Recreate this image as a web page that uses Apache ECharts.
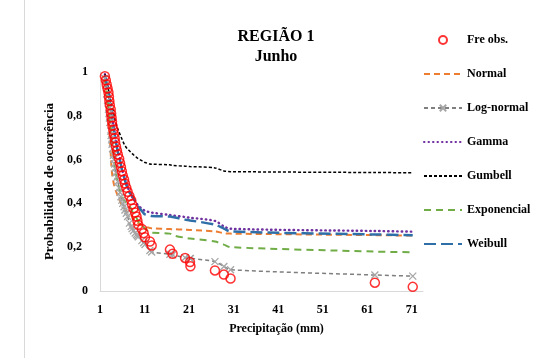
<!DOCTYPE html>
<html>
<head>
<meta charset="utf-8">
<script src="https://cdn.jsdelivr.net/npm/echarts@6/dist/echarts.min.js"></script>
<style>
  html, body { margin: 0; padding: 0; background: #fff; }
  #chart { width: 543px; height: 358px; }
</style>
</head>
<body>
<div id="chart"></div>
<script>
// precipitation (mm) of each observation, ascending
const obsX = [2.1, 2.3, 2.5, 2.7, 2.9, 3.0, 3.1, 3.2, 3.4, 3.5, 3.6, 3.7, 3.8, 4.0, 4.1, 4.3, 4.4, 4.6, 4.8, 5.0,
  5.3, 5.5, 5.7, 5.9, 6.1, 6.4, 6.6, 6.9, 7.2, 7.6, 8.0, 8.2, 8.5, 8.9, 9.2, 9.4, 9.6, 10.4, 10.8, 11.1,
  12.2, 12.6, 16.7, 17.3, 20.1, 21.2, 21.3, 26.8, 28.8, 30.3, 62.7, 71.2];
const obsP = [0.981, 0.962, 0.943, 0.925, 0.906, 0.887, 0.868, 0.849, 0.830, 0.811, 0.792, 0.774, 0.755, 0.736, 0.717, 0.698, 0.679, 0.660, 0.642, 0.623,
  0.604, 0.585, 0.566, 0.547, 0.528, 0.509, 0.491, 0.472, 0.453, 0.434, 0.415, 0.396, 0.377, 0.358, 0.340, 0.321, 0.302, 0.283, 0.264, 0.245,
  0.226, 0.208, 0.189, 0.170, 0.151, 0.132, 0.113, 0.094, 0.075, 0.057, 0.038, 0.019];
const normalP = [0.96, 0.93, 0.90, 0.86, 0.81, 0.78, 0.74, 0.70, 0.63, 0.59, 0.56, 0.54, 0.52, 0.50, 0.49, 0.475, 0.465, 0.455, 0.445, 0.435,
  0.42, 0.41, 0.40, 0.395, 0.39, 0.38, 0.375, 0.365, 0.36, 0.35, 0.345, 0.34, 0.33, 0.325, 0.318, 0.314, 0.31, 0.30, 0.295, 0.292,
  0.288, 0.286, 0.283, 0.282, 0.28, 0.279, 0.279, 0.272, 0.264, 0.262, 0.255, 0.253];
const lognormalP = [0.97, 0.94, 0.90, 0.87, 0.83, 0.81, 0.79, 0.77, 0.73, 0.71, 0.69, 0.67, 0.65, 0.62, 0.60, 0.58, 0.56, 0.54, 0.52, 0.50,
  0.47, 0.45, 0.43, 0.415, 0.40, 0.385, 0.37, 0.355, 0.34, 0.31, 0.295, 0.285, 0.275, 0.265, 0.258, 0.252, 0.247, 0.23, 0.22, 0.212,
  0.185, 0.178, 0.168, 0.165, 0.152, 0.149, 0.148, 0.134, 0.112, 0.097, 0.073, 0.068];
const gammaP = [0.99, 0.975, 0.955, 0.935, 0.915, 0.90, 0.885, 0.87, 0.85, 0.835, 0.815, 0.80, 0.78, 0.76, 0.74, 0.72, 0.70, 0.68, 0.66, 0.64,
  0.62, 0.60, 0.58, 0.56, 0.545, 0.525, 0.51, 0.49, 0.475, 0.455, 0.44, 0.43, 0.42, 0.41, 0.40, 0.395, 0.39, 0.375, 0.37, 0.365,
  0.36, 0.358, 0.347, 0.345, 0.338, 0.334, 0.333, 0.32, 0.295, 0.284, 0.274, 0.271];
const gumbelP = [0.99, 0.975, 0.96, 0.94, 0.92, 0.91, 0.90, 0.89, 0.87, 0.86, 0.85, 0.84, 0.835, 0.82, 0.81, 0.79, 0.78, 0.765, 0.75, 0.74,
  0.725, 0.715, 0.705, 0.695, 0.685, 0.672, 0.665, 0.655, 0.648, 0.64, 0.632, 0.628, 0.622, 0.615, 0.61, 0.607, 0.604, 0.595, 0.59, 0.587,
  0.58, 0.579, 0.576, 0.573, 0.57, 0.568, 0.567, 0.562, 0.548, 0.545, 0.541, 0.54];
const expP = [0.97, 0.94, 0.91, 0.88, 0.85, 0.83, 0.81, 0.79, 0.75, 0.73, 0.71, 0.69, 0.67, 0.63, 0.61, 0.57, 0.55, 0.53, 0.51, 0.49,
  0.47, 0.455, 0.445, 0.435, 0.425, 0.415, 0.41, 0.405, 0.40, 0.39, 0.375, 0.365, 0.355, 0.343, 0.333, 0.325, 0.318, 0.302, 0.292, 0.285,
  0.268, 0.266, 0.262, 0.255, 0.243, 0.24, 0.24, 0.226, 0.212, 0.20, 0.18, 0.177];
const weibullP = [0.985, 0.97, 0.95, 0.93, 0.91, 0.895, 0.88, 0.865, 0.845, 0.83, 0.81, 0.795, 0.775, 0.755, 0.735, 0.715, 0.695, 0.675, 0.655, 0.635,
  0.615, 0.595, 0.575, 0.555, 0.54, 0.52, 0.505, 0.485, 0.47, 0.45, 0.44, 0.435, 0.425, 0.41, 0.40, 0.39, 0.385, 0.365, 0.355, 0.35,
  0.345, 0.343, 0.34, 0.338, 0.326, 0.322, 0.321, 0.303, 0.285, 0.272, 0.258, 0.255];

const yTickLabels = { 0: '0', 0.2: '0,2', 0.4: '0,4', 0.6: '0,6', 0.8: '0,8', 1: '1' };
const legendNames = ['Fre obs.', 'Normal', 'Log-normal', 'Gamma', 'Gumbell', 'Exponencial', 'Weibull'];
// series whose legend icon keeps its marker
const legendWithMarker = ['Fre obs.', 'Log-normal'];

const FONT = '"Liberation Serif", "Times New Roman", serif';
const pairs = ys => obsX.map((x, i) => [x, ys[i]]);

function lineSeries(name, ys, color, width, dash, extra) {
  return Object.assign({
    name: name,
    type: 'line',
    data: pairs(ys),
    smooth: 0.3,
    showSymbol: false,
    symbol: 'none',
    lineStyle: { color: color, width: width, type: dash },
    itemStyle: { color: color },
    z: 2,
  }, extra || {});
}

const chart = echarts.init(document.getElementById('chart'));
chart.setOption({
  animation: false,
  backgroundColor: '#fff',
  textStyle: { fontFamily: FONT, fontWeight: 'bold', color: '#000' },
  title: {
    text: 'REGIÃO 1\nJunho',
    left: 271,
    top: 22,
    textAlign: 'center',
    textStyle: { fontFamily: FONT, fontWeight: 'bold', fontSize: 16, lineHeight: 20, color: '#000' },
  },
  legend: {
    orient: 'vertical',
    left: 418,
    top: 29,
    itemWidth: 38,
    itemHeight: 8,
    itemGap: 22,
    data: legendNames.map(n => legendWithMarker.includes(n) ? { name: n } : { name: n, itemStyle: { opacity: 0 } }),
    textStyle: { fontFamily: FONT, fontWeight: 'bold', fontSize: 12, color: '#000' },
  },
  grid: { left: 100, right: 120, top: 72, bottom: 67 },
  xAxis: {
    type: 'value',
    min: 1,
    max: 73.5,
    interval: 10,
    name: 'Precipitação (mm)',
    nameLocation: 'middle',
    nameGap: 32,
    nameTextStyle: { fontFamily: FONT, fontWeight: 'bold', fontSize: 12, color: '#000', padding: [0, 0, 0, 30] },
    axisLine: { lineStyle: { color: '#d9d9d9', width: 1 } },
    axisTick: { show: false },
    splitLine: { show: false },
    axisLabel: { showMaxLabel: false, margin: 13, fontFamily: FONT, fontWeight: 'bold', fontSize: 12, color: '#000' },
  },
  yAxis: {
    type: 'value',
    min: 0,
    max: 1,
    interval: 0.2,
    name: 'Probabilidade de ocorrência',
    nameLocation: 'middle',
    nameGap: 36,
    nameTextStyle: { fontFamily: FONT, fontWeight: 'bold', fontSize: 13, color: '#000' },
    axisLine: { show: true, lineStyle: { color: '#d9d9d9', width: 1 } },
    axisTick: { show: false },
    splitLine: { show: false },
    axisLabel: {
      margin: 12,
      fontFamily: FONT, fontWeight: 'bold', fontSize: 12, color: '#000',
      formatter: function (v) {
        const t = yTickLabels[Math.round(v * 10) / 10];
        return (v === 0 || v === 1) ? t : t + '  ';
      },
    },
  },
  graphic: [{
    type: 'line',
    shape: { x1: 24.5, y1: 0, x2: 24.5, y2: 358 },
    style: { stroke: '#d9d9d9', lineWidth: 1 },
  }],
  series: [
    lineSeries('Normal', normalP, '#ED7D31', 2, [6, 4]),
    lineSeries('Log-normal', lognormalP, '#7F7F7F', 1.5, [4, 3], {
      showSymbol: true,
      symbol: 'path://M0,0L10,10M10,0L0,10',
      symbolSize: 7,
      itemStyle: { color: '#A6A6A6', borderColor: '#A6A6A6', borderWidth: 1.3 },
    }),
    lineSeries('Gamma', gammaP, '#7030A0', 2.4, [0.5, 4], { lineStyle: { color: '#7030A0', width: 2.4, type: [0.5, 4], cap: 'round' } }),
    lineSeries('Gumbell', gumbelP, '#000000', 1.5, [3, 2]),
    lineSeries('Exponencial', expP, '#70AD47', 2, [7, 5]),
    lineSeries('Weibull', weibullP, '#2F6FA8', 2.5, [12, 5]),
    {
      name: 'Fre obs.',
      type: 'scatter',
      data: pairs(obsP),
      symbol: 'circle',
      symbolSize: 9,
      itemStyle: { color: 'rgba(255,255,255,0)', borderColor: '#FF0000', borderWidth: 1.5 },
      z: 5,
    },
  ],
});
</script>
</body>
</html>
